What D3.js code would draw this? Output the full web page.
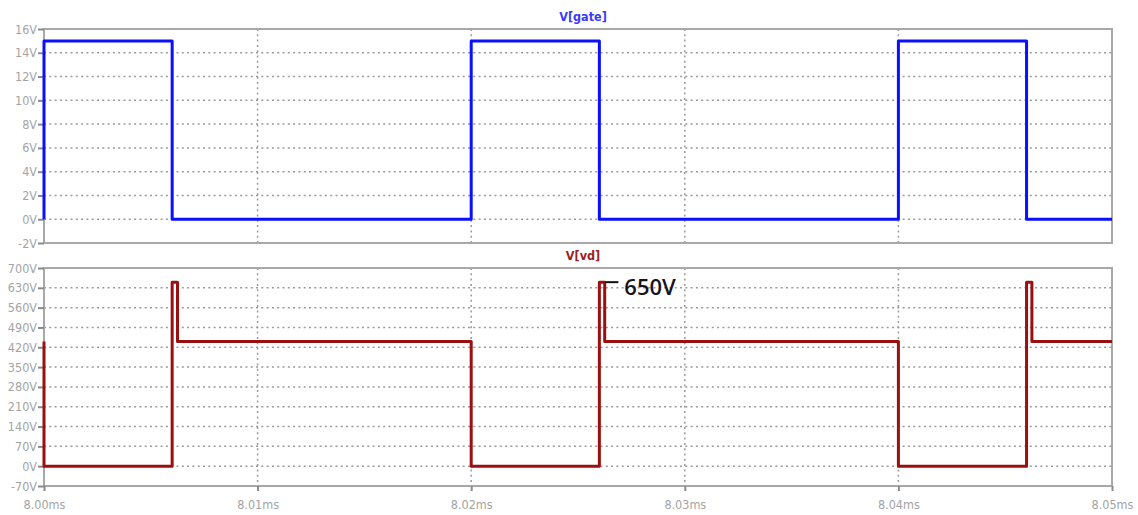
<!DOCTYPE html>
<html>
<head>
<meta charset="utf-8">
<script src="https://cdn.jsdelivr.net/npm/d3@7"></script>
<style>
  html, body { margin: 0; padding: 0; background: #fff; }
  svg { display: block; }
  .tick text { font-family: "Liberation Sans Narrow", "DejaVu Sans Condensed", "Liberation Sans", sans-serif; font-size: 12.5px; fill: #a4a4a4; }
</style>
</head>
<body>
<svg id="chart" width="1138" height="515"></svg>
<script>
// Time axis (ms)
const timeTicks = [8.00, 8.01, 8.02, 8.03, 8.04, 8.05];

// Gate drive voltage: step levels holding from each time until the next
const gateTimes  = [8.000, 8.000, 8.006, 8.020, 8.026, 8.040, 8.046, 8.050];
const gateValues = [0, 15, 0, 15, 0, 15, 0, 0];
const gateTicks  = [-2, 0, 2, 4, 6, 8, 10, 12, 14, 16];

// Drain voltage with the turn-off overshoot spike
const vdTimes  = [8.000, 8.000, 8.006, 8.00625, 8.020, 8.026, 8.02625, 8.040, 8.046, 8.04625, 8.050];
const vdValues = [440, 0, 650, 440, 0, 650, 440, 0, 650, 440, 440];
const vdTicks  = [-70, 0, 70, 140, 210, 280, 350, 420, 490, 560, 630, 700];

const peakLabel = "650V";
const peakValue = 650;
const peakTime  = 8.026;

const svg = d3.select("#chart");
const left = 44, right = 1112;

const x = d3.scaleLinear().domain([8.00, 8.05]).range([left, right]);

function panel(cfg) {
  const y = d3.scaleLinear().domain(cfg.domain).range([cfg.bottom, cfg.top]);
  const g = svg.append("g");

  // dotted horizontal grid
  g.selectAll("line.hgrid")
    .data(cfg.ticks.filter(t => t !== cfg.domain[0] && t !== cfg.domain[1]))
    .join("line")
    .attr("x1", left).attr("x2", right)
    .attr("y1", d => y(d)).attr("y2", d => y(d))
    .attr("stroke", "#9a9a9a").attr("stroke-width", 1.5)
    .attr("stroke-dasharray", "2,3.3");

  // dotted vertical grid
  g.selectAll("line.vgrid")
    .data(timeTicks.slice(1, -1))
    .join("line")
    .attr("x1", d => x(d)).attr("x2", d => x(d))
    .attr("y1", cfg.top).attr("y2", cfg.bottom)
    .attr("stroke", "#9a9a9a").attr("stroke-width", 1.5)
    .attr("stroke-dasharray", "2,3.3");

  // frame
  g.append("rect")
    .attr("x", left).attr("y", cfg.top)
    .attr("width", right - left).attr("height", cfg.bottom - cfg.top)
    .attr("fill", "none").attr("stroke", "#a8a8a8").attr("stroke-width", 2);

  // y axis
  const ya = g.append("g")
    .attr("transform", `translate(${left},0)`)
    .call(d3.axisLeft(y).tickValues(cfg.ticks).tickSize(6).tickPadding(1)
      .tickFormat(d => d + "V"));
  ya.select(".domain").remove();
  ya.selectAll(".tick line").attr("stroke", "#8a8a8a").attr("stroke-width", 2);

  // trace
  const line = d3.line()
    .x(d => x(d[0])).y(d => y(d[1]))
    .curve(d3.curveStepAfter);
  g.append("path")
    .datum(cfg.times.map((t, i) => [t, cfg.values[i]]))
    .attr("d", line)
    .attr("fill", "none")
    .attr("stroke", cfg.color).attr("stroke-width", 3)
    .attr("stroke-linejoin", "round");

  // title
  g.append("text")
    .attr("x", 583).attr("y", cfg.top - 8)
    .attr("text-anchor", "middle")
    .attr("font-family", "Liberation Sans Narrow, DejaVu Sans Condensed, sans-serif")
    .attr("font-size", 12.5).attr("font-weight", "bold")
    .attr("fill", cfg.titleColor)
    .text(cfg.title);

  return { g, y };
}

panel({
  domain: [-2, 16], ticks: gateTicks, top: 29, bottom: 243,
  times: gateTimes, values: gateValues,
  color: "#0a10ff", titleColor: "#3a3aff", title: "V[gate]"
});

const vd = panel({
  domain: [-70, 700], ticks: vdTicks, top: 268, bottom: 486,
  times: vdTimes, values: vdValues,
  color: "#9a1010", titleColor: "#a02020", title: "V[vd]"
});

// x axis under the lower panel
const xa = svg.append("g")
  .attr("transform", "translate(0,486)")
  .call(d3.axisBottom(x).tickValues(timeTicks).tickSize(5).tickPadding(9)
    .tickFormat(d => d3.format(".2f")(d) + "ms"));
xa.select(".domain").remove();
xa.selectAll(".tick line").attr("stroke", "#8a8a8a").attr("stroke-width", 2);

// peak annotation
const py = vd.y(peakValue);
svg.append("line")
  .attr("x1", x(peakTime) + 6).attr("x2", x(peakTime) + 19)
  .attr("y1", py).attr("y2", py)
  .attr("stroke", "#111").attr("stroke-width", 2);
svg.append("text")
  .attr("x", x(peakTime) + 25).attr("y", py + 13)
  .attr("font-family", "Open Sans, Noto Sans, sans-serif")
  .attr("font-size", 22).attr("font-weight", 600)
  .attr("fill", "#141420")
  .text(peakLabel);
</script>
</body>
</html>
